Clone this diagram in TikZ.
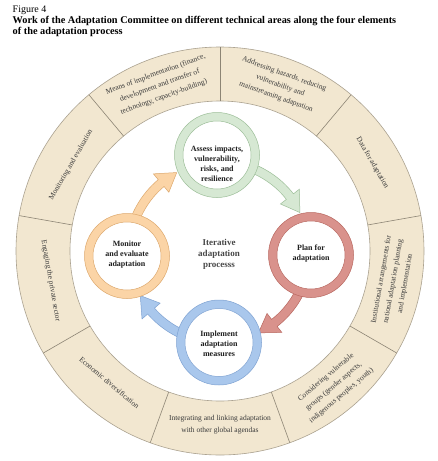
\documentclass[tikz,border=0pt]{standalone}
\usepackage{fontspec}
\setmainfont{Liberation Serif}
\definecolor{ringfill}{HTML}{F2E7D0}
\definecolor{ringedge}{HTML}{ABA290}
\definecolor{divcol}{HTML}{8C8474}
\definecolor{ringtxt}{HTML}{3A3A3A}
\definecolor{greenf}{HTML}{D6E8D3}
\definecolor{greend}{HTML}{9CBE98}
\definecolor{redf}{HTML}{D9928C}
\definecolor{redd}{HTML}{B8675F}
\definecolor{orangef}{HTML}{FBD4A6}
\definecolor{oranged}{HTML}{DDA86C}
\definecolor{bluef}{HTML}{A9C7EC}
\definecolor{blued}{HTML}{7EA2D2}
\newcommand\cyclearrow[4]{%
  \pgfmathsetmacro\arrHb{#2+12}%
  \filldraw[fill=#3, draw=#4, line width=0.5, shift={(D)}]
    (#1:94.5) arc[start angle=#1, end angle=\arrHb, radius=94.5]
    -- (\arrHb:102) -- (#2:90) -- (\arrHb:78) -- (\arrHb:85.5)
    arc[start angle=\arrHb, end angle=#1, radius=85.5] -- cycle;}
\begin{document}
\begin{tikzpicture}[x=1pt,y=1pt,
  ringtext/.style={font=\fontsize{7.5}{12}\selectfont, text=ringtxt, align=center, inner sep=0pt},
  divider/.style={draw=divcol, line width=0.6},
  stageouter/.style n args={2}{circle, minimum size=85, inner sep=0pt, fill=#1, draw=#2, line width=0.5},
  stageinner/.style={circle, minimum size=68, inner sep=0pt, fill=white, draw=#1, line width=0.5},
  stagetext/.style={font=\bfseries\fontsize{8}{10}\selectfont, text=black!88, align=center, inner sep=0pt},
  titletext/.style={anchor=base west, inner sep=0pt, font=\bfseries\fontsize{10.3}{12}\selectfont}]
\useasboundingbox[fill=white] (0,0) rectangle (437,-461);
\coordinate (C) at (220,-251);
\coordinate (D) at (219,-252);
% title
\node[anchor=base west, inner sep=0pt, font=\fontsize{10}{12}\selectfont] (fig) at (12.5,-12) {Figure 4};
\node[titletext] (title1) at (12.5,-23) {Work of the Adaptation Committee on different technical areas along the four elements};
\node[titletext] (title2) at (12.5,-34.5) {of the adaptation process};
% ring
\filldraw[fill=ringfill, draw=ringedge, line width=0.6] (C) circle (204);
\filldraw[fill=white, draw=ringedge, line width=0.6] (C) circle (150);
\foreach \a in {10,50,...,330}
  \draw[divider] ([shift={(\a:150)}]C) -- ([shift={(\a:204)}]C);
\node[ringtext, rotate=20] (means) at ([shift={(110:176)}]C) {Means of implementation (finance,\\development and transfer of\\technology, capacity-building)};
\node[ringtext, rotate=-20] (hazards) at ([shift={(70:176)}]C) {Addressing hazards, reducing\\vulnerability and\\mainstreaming adaptation};
\node[ringtext, rotate=-60] (data) at ([shift={(30:176)}]C) {Data for adaptation};
\node[ringtext, rotate=80] (inst) at ([shift={(-10:176)}]C) {Institutional arrangements for\\national adaptation planning\\and implementation};
\node[ringtext, rotate=40] (vuln) at ([shift={(-50:177)}]C) {Considering vulnerable\\groups (gender aspects,\\indigenous peoples, youth)};
\node[ringtext, rotate=0] (integ) at ([shift={(-90:174)}]C) {Integrating and linking adaptation\\with other global agendas};
\node[ringtext, rotate=-40] (econ) at ([shift={(230:172)}]C) {Economic diversification};
\node[ringtext, rotate=-80] (priv) at ([shift={(190:172)}]C) {Engaging the private sector};
\node[ringtext, rotate=60] (monev) at ([shift={(150:172)}]C) {Monitoring and evaluation};
% arrows
\cyclearrow{172}{118}{orangef}{oranged}
\cyclearrow{80}{26}{greenf}{greend}
\cyclearrow{-10}{-64}{redf}{redd}
\cyclearrow{260}{209}{bluef}{blued}
% stages
\node[stageouter={greenf}{greend}] (assessO) at (217,-155) {};
\node[stageinner=greend] (assessI) at (217,-155) {};
\node[stagetext] (assess) at (217,-164) {Assess impacts,\\vulnerability,\\risks, and\\resilience};
\node[stageouter={redf}{redd}] (planO) at (311,-255) {};
\node[stageinner=redd] (planI) at (311,-255) {};
\node[stagetext] (plan) at (311,-254) {Plan for\\adaptation};
\node[stageouter={bluef}{blued}] (implO) at (219,-342.5) {};
\node[stageinner=blued] (implI) at (219,-342.5) {};
\node[stagetext] (impl) at (219,-344) {Implement\\adaptation\\measures};
\node[stageouter={orangef}{oranged}] (monO) at (127,-256) {};
\node[stageinner=oranged] (monI) at (127,-256) {};
\node[stagetext] (mon) at (127,-255) {Monitor\\and evaluate\\adaptation};
% centre
\node[font=\bfseries\fontsize{9}{11}\selectfont, text=black!72, align=center, inner sep=0pt] (iter) at (219,-254) {Iterative\\adaptation\\processs};
\end{tikzpicture}
\end{document}
